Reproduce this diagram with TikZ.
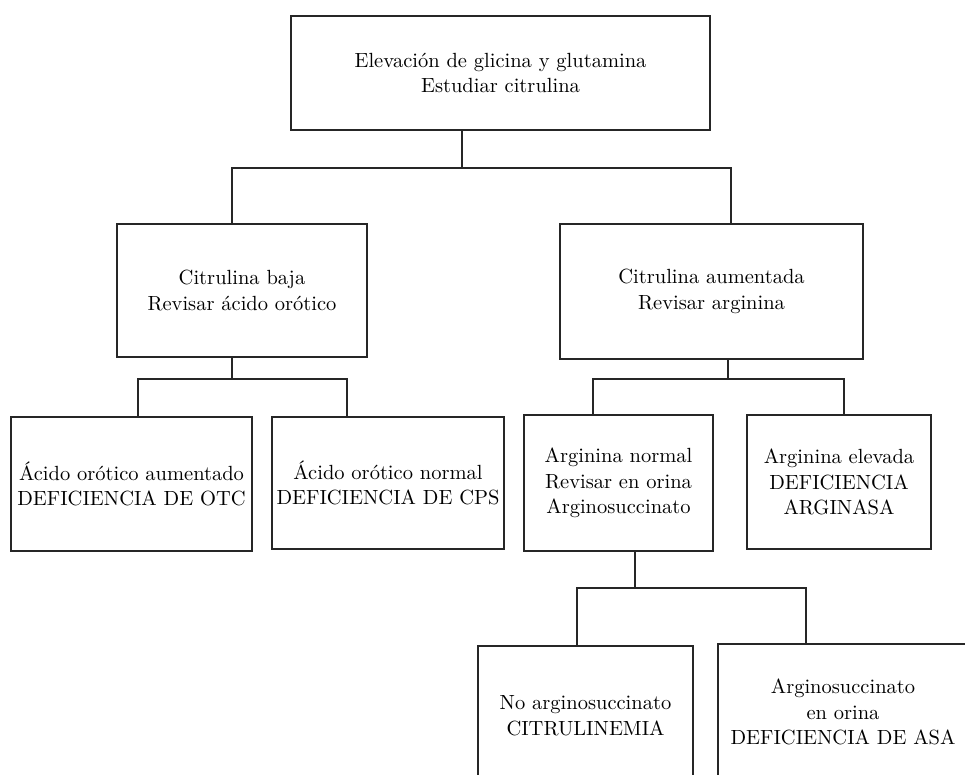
\documentclass[tikz,border=0pt]{standalone}
\usepackage{fontspec}
\setmainfont{lmroman10-regular.otf}
\begin{document}
\begin{tikzpicture}[x=1pt,y=-1pt,
  box/.style={draw=black!85, line width=2pt, inner sep=0pt, align=center,
    font=\fontsize{20.5}{25.5}\selectfont},
  conn/.style={draw=black!85, line width=1.8pt}]
\clip (0,0) rectangle (965,775);
\fill[white] (0,0) rectangle (965,775);
% boxes: centre, width, height from pixel measurements
\node[box, minimum width=419pt, minimum height=114pt] (top) at (500.5,73)
  {Elevación de glicina y glutamina\\Estudiar citrulina};
\node[box, minimum width=250pt, minimum height=133pt] (lm) at (242,290.5)
  {Citrulina baja\\Revisar ácido orótico};
\node[box, minimum width=303pt, minimum height=135pt] (rm) at (711.5,291.5)
  {Citrulina aumentada\\Revisar arginina};
\node[box, minimum width=241pt, minimum height=134pt] (a) at (131.5,484)
  {Ácido orótico aumentado\\DEFICIENCIA DE OTC};
\node[box, minimum width=232pt, minimum height=132pt] (b) at (388,483)
  {Ácido orótico normal\\DEFICIENCIA DE CPS};
\node[box, minimum width=189pt, minimum height=136pt] (c) at (618.5,483)
  {Arginina normal\\Revisar en orina\\Arginosuccinato};
\node[box, minimum width=184pt, minimum height=134pt] (d) at (839,482)
  {Arginina elevada\\DEFICIENCIA\\ARGINASA};
\node[box, minimum width=215pt, minimum height=139pt] (e) at (585.5,715.5)
  {No arginosuccinato\\CITRULINEMIA};
\node[box, minimum width=250pt, minimum height=136pt] (f) at (843,712)
  {Arginosuccinato\\en orina\\DEFICIENCIA DE ASA};
% junction coordinates
\coordinate (j0) at (462,168);
\coordinate (j0l) at (232,168);
\coordinate (j0r) at (731,168);
\coordinate (j1) at (232,379);
\coordinate (j1l) at (138,379);
\coordinate (j1r) at (347,379);
\coordinate (j2) at (728,379);
\coordinate (j2l) at (593,379);
\coordinate (j2r) at (844,379);
\coordinate (j3) at (635,588);
\coordinate (j3l) at (577,588);
\coordinate (j3r) at (806,588);
% connectors
\draw[conn] (top.south -| j0) -- (j0);
\draw[conn] (lm.north -| j0l) -- (j0l) -- (j0r) -- (rm.north -| j0r);
\draw[conn] (lm.south -| j1) -- (j1);
\draw[conn] (a.north -| j1l) -- (j1l) -- (j1r) -- (b.north -| j1r);
\draw[conn] (rm.south -| j2) -- (j2);
\draw[conn] (c.north -| j2l) -- (j2l) -- (j2r) -- (d.north -| j2r);
\draw[conn] (c.south -| j3) -- (j3);
\draw[conn] (e.north -| j3l) -- (j3l) -- (j3r) -- (f.north -| j3r);
\end{tikzpicture}
\end{document}
